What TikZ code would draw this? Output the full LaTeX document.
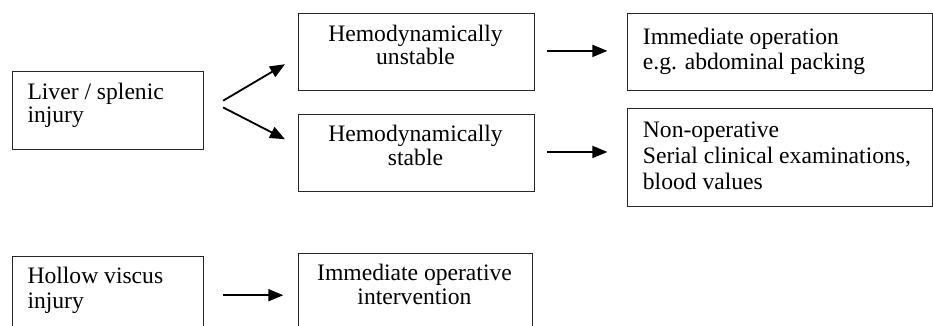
\documentclass[tikz,border=0pt]{standalone}
\usepackage{fontspec}
\setmainfont{Liberation Serif}
\usetikzlibrary{arrows.meta,calc}
\newcommand\hstr{\rule{0pt}{18pt}}
\begin{document}
\begin{tikzpicture}[x=1pt,y=-1pt,
  box/.style={draw=black!85, line width=1.4pt, inner sep=0pt, anchor=north west},
  txt/.style={inner sep=0pt, text=black},
  arr/.style={draw=black, line width=1.8pt, -{Triangle[length=15pt,width=12pt]}}]
\useasboundingbox (0,0) rectangle (933,325);
\clip (0,0) rectangle (933,325);
% boxes
\node[box, minimum width=191pt, minimum height=78pt] (liver) at (12,71) {};
\node[box, minimum width=236pt, minimum height=77pt] (unst) at (298,13) {};
\node[box, minimum width=236pt, minimum height=77.5pt] (stab) at (298,113.5) {};
\node[box, minimum width=305pt, minimum height=77pt] (op) at (627,13) {};
\node[box, minimum width=305pt, minimum height=98pt] (nonop) at (627,108) {};
\node[box, minimum width=191pt, minimum height=80pt] (hollow) at (12,255.5) {};
\node[box, minimum width=234pt, minimum height=82pt] (interv) at (298,253) {};
% texts
\node[txt, anchor=north west, align=left, font=\fontsize{23.6}{23.3}\selectfont] (livert) at (27.3,81) {\hstr Liver / splenic\\injury};
\node[txt, anchor=north, align=center, font=\fontsize{23.6}{23.4}\selectfont] (unstt) at (415.5,23.3) {\hstr Hemodynamically\\unstable};
\node[txt, anchor=north, align=center, font=\fontsize{23.6}{24}\selectfont] (stabt) at (415.5,123.7) {\hstr Hemodynamically\\stable};
\node[txt, anchor=north west, align=left, font=\fontsize{23.6}{25}\selectfont] (opt) at (642.7,26.7) {\hstr Immediate operation\\e.g. abdominal packing};
\node[txt, anchor=north west, align=left, font=\fontsize{23.6}{26}\selectfont] (nonopt) at (642.7,119.3) {\hstr Non-operative\\Serial clinical examinations,\\blood values};
\node[txt, anchor=north west, align=left, font=\fontsize{23.6}{25}\selectfont] (hollowt) at (27.3,265.3) {\hstr Hollow viscus\\injury};
\node[txt, anchor=north, align=center, font=\fontsize{23.6}{24}\selectfont] (intervt) at (414.5,262) {\hstr Immediate operative\\intervention};
% connectors
\draw[arr] ([xshift=18.7pt,yshift=10pt]liver.east) -- ([xshift=-13pt,yshift=-12pt]unst.west);
\draw[arr] ([xshift=18.7pt,yshift=3.3pt]liver.east) -- ([xshift=-13pt,yshift=13.7pt]stab.west);
\draw[arr] ([xshift=12pt,yshift=1.3pt]unst.east) -- ([xshift=-19.6pt,yshift=1.3pt]unst.east -| op.west);
\draw[arr] ([xshift=12pt,yshift=1pt]stab.east) -- ([xshift=-19.6pt,yshift=1pt]stab.east -| nonop.west);
\draw[arr] ([xshift=18.7pt,yshift=1pt]hollow.east) -- ([xshift=-14.7pt,yshift=1pt]hollow.east -| interv.west);
\end{tikzpicture}
\end{document}
